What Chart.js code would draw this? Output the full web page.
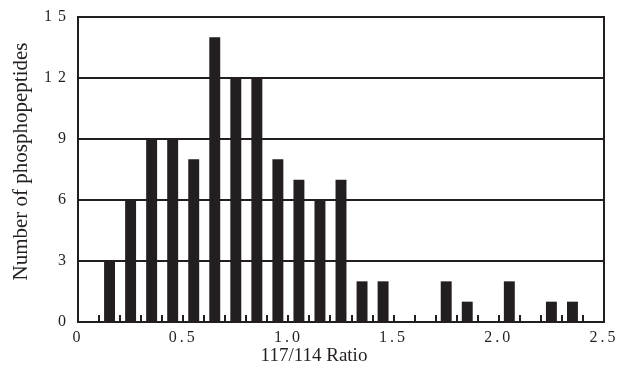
<!DOCTYPE html>
<html><head><meta charset="utf-8">
<script src="https://cdn.jsdelivr.net/npm/chart.js@4/dist/chart.umd.min.js"></script>
<style>html,body{margin:0;padding:0;background:#fff}#wrap{width:623px;height:368px}</style>
</head><body><div id="wrap"><canvas id="c" width="623" height="368"></canvas></div>
<script>
// Data
const binCenters = [0.15,0.25,0.35,0.45,0.55,0.65,0.75,0.85,0.95,1.05,1.15,1.25,1.35,1.45,1.55,1.65,1.75,1.85,1.95,2.05,2.15,2.25,2.35];
const counts     = [3,   6,   9,   9,   8,   14,  12,  12,  8,   7,   6,   7,   2,   2,   0,   0,   2,   1,   0,   2,   0,   1,   1];
const xTickLabels = ['0','0.5','1.0','1.5','2.0','2.5'];
const yTickValues = [0,3,6,9,12,15];
const xTitle = '117/114 Ratio';
const yTitle = 'Number of phosphopeptides';

const INK = '#231f20';

const stylePlugin = {
  id: 'tickStyle',
  beforeDraw(chart) {
    const spacing = {x: '3px', y: '6px'};
    const titleShift = {x: [-27, 0], y: [0, -8]};
    for (const id of Object.keys(spacing)) {
      const s = chart.scales[id];
      if (!s || s._spPatched) continue;
      const origLabels = s.drawLabels.bind(s);
      s.drawLabels = function(area) {
        const ctx = this.ctx;
        const prev = ctx.letterSpacing;
        ctx.letterSpacing = spacing[id];
        origLabels(area);
        ctx.letterSpacing = prev || '0px';
      };
      const origTitle = s.drawTitle.bind(s);
      s.drawTitle = function() {
        const ctx = this.ctx;
        ctx.save();
        ctx.translate(titleShift[id][0], titleShift[id][1]);
        origTitle();
        ctx.restore();
      };
      s._spPatched = true;
    }
  }
};

new Chart(document.getElementById('c'), {
  type: 'bar',
  data: {
    datasets: [{
      data: binCenters.map((x, i) => ({x: x, y: counts[i]})),
      backgroundColor: INK,
      borderWidth: 0,
      categoryPercentage: 1,
      barPercentage: 0.52
    }]
  },
  plugins: [stylePlugin],
  options: {
    responsive: false,
    animation: false,
    events: [],
    layout: {padding: {left: 0, right: 19, top: 17, bottom: 0}},
    plugins: {legend: {display: false}, tooltip: {enabled: false}},
    scales: {
      x: {
        type: 'linear',
        min: 0, max: 2.5,
        offset: false,
        afterFit(s) { s.height = 46; s.paddingLeft = 0; s.paddingRight = 0; },
        grid: {offset: false, drawOnChartArea: false, drawTicks: true, tickLength: -7, color: INK, lineWidth: 2},
        border: {display: true, color: INK, width: 2},
        ticks: {
          stepSize: 0.1, autoSkip: false, maxRotation: 0, padding: 13,
          color: INK,
          font: {family: 'Liberation Serif', size: 16},
          callback(v) {
            const k = Math.round(v * 10);
            return k % 5 === 0 ? xTickLabels[k / 5] : '';
          }
        },
        title: {display: true, text: xTitle, color: INK, padding: {top: 0, bottom: 1},
                font: {family: 'Liberation Serif', size: 19}}
      },
      y: {
        min: 0, max: 15,
        afterFit(s) { s.width = 78; s.paddingTop = 0; s.paddingBottom = 0; },
        afterBuildTicks(s) { s.ticks = yTickValues.map(v => ({value: v})); },
        grid: {drawTicks: false, color: INK, lineWidth: 2},
        border: {display: true, color: INK, width: 2},
        ticks: {padding: 6, color: INK, font: {family: 'Liberation Serif', size: 16}},
        title: {display: true, text: yTitle, color: INK, padding: {top: 9, bottom: 0},
                font: {family: 'Liberation Serif', size: 21}}
      },
      y2: {
        position: 'right',
        display: true,
        afterFit(s) { s.width = 0; },
        grid: {display: false},
        ticks: {display: false},
        border: {display: true, color: INK, width: 2}
      }
    }
  }
});
</script>
</body></html>
